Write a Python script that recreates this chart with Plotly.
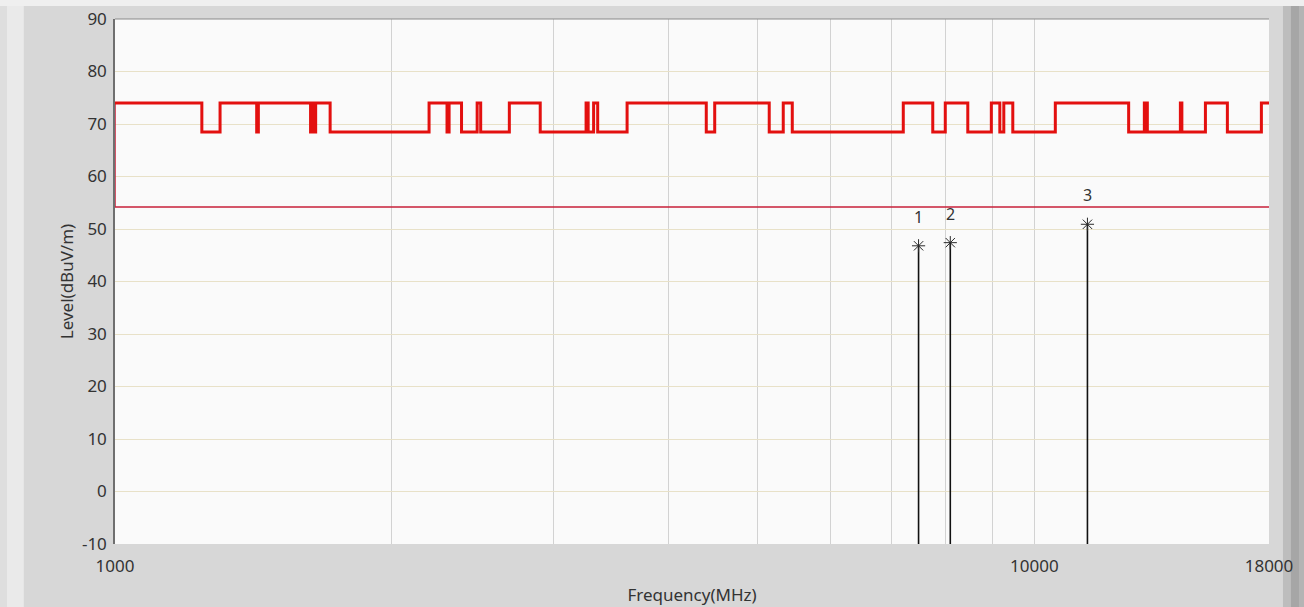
import math
import plotly.graph_objects as go

# Measured trace: step edges (MHz) and the level held from each edge onward
trace_freq_mhz = [
    1000, 1243, 1301, 1426, 1432, 1632, 1638, 1647, 1653, 1714,
    2196, 2297, 2309, 2382, 2477, 2499, 2685, 2901, 3254, 3271,
    3316, 3350, 3606, 4397, 4491, 5148, 5332, 5454, 7202, 7754,
    8001, 8465, 8979, 9172, 9264, 9475, 10540, 12665, 13173, 13272,
    14417, 14471, 15350, 16218, 17660, 18000,
]
trace_level_dbuv = [
    74, 68.5, 74, 68.5, 74, 68.5, 74, 68.5, 74, 68.5,
    74, 68.5, 74, 68.5, 74, 68.5, 74, 68.5, 74, 68.5,
    74, 68.5, 74, 68.5, 74, 68.5, 74, 68.5, 74, 68.5,
    74, 68.5, 74, 68.5, 74, 68.5, 74, 68.5, 74, 68.5,
    74, 68.5, 74, 68.5, 74, 74,
]

# Limit line
limit_freq_mhz = [1000, 1000, 18000]
limit_level_dbuv = [74, 54.2, 54.2]

# Peak markers
marker_ids = ["1", "2", "3"]
marker_freq_mhz = [7483, 8102, 11423]
marker_level_dbuv = [46.8, 47.4, 50.9]

y_floor = -10
y_ticks = [-10, 0, 10, 20, 30, 40, 50, 60, 70, 80, 90]
y_tick_text = ["-10", "0", "10", "20", "30", "40", "50", "60", "70", "80", "90"]
x_ticks = [1000, 10000, 18000]
x_tick_text = ["1000", "10000", "18000"]
x_grid = [2000, 3000, 4000, 5000, 6000, 7000, 8000, 9000, 10000]

font_family = "Noto Sans, Open Sans, sans-serif"
text_color = "#333333"

fig = go.Figure()

fig.add_trace(go.Scatter(
    x=limit_freq_mhz, y=limit_level_dbuv, mode="lines",
    line=dict(color="#c8203a", width=1.5), hoverinfo="skip",
))

fig.add_trace(go.Scatter(
    x=trace_freq_mhz, y=trace_level_dbuv, mode="lines",
    line=dict(color="#e3100f", width=3, shape="hv"), hoverinfo="skip",
))

# Stems from each marker down to the floor of the axis
stem_x, stem_y = [], []
for f, lvl in zip(marker_freq_mhz, marker_level_dbuv):
    stem_x += [f, f, None]
    stem_y += [lvl, y_floor, None]
fig.add_trace(go.Scatter(
    x=stem_x, y=stem_y, mode="lines",
    line=dict(color="#111111", width=1.6), hoverinfo="skip",
))

fig.add_trace(go.Scatter(
    x=marker_freq_mhz, y=marker_level_dbuv, mode="markers",
    marker=dict(symbol="asterisk-open", size=11, color="#2a2a2a",
                line=dict(color="#2a2a2a", width=1)),
    hoverinfo="skip",
))

# Marker numbers above each peak (annotation x is log10 on a log axis)
for mid, f, lvl in zip(marker_ids, marker_freq_mhz, marker_level_dbuv):
    fig.add_annotation(
        x=math.log10(f), y=lvl, xref="x", yref="y", text=mid, showarrow=False,
        yshift=29, font=dict(size=16, color=text_color, family=font_family),
    )

# Window chrome around the graph
frame_shapes = [
    dict(x0=-0.0997, x1=-0.0937, y0=-0.2, y1=1.1, color="#dedede"),
    dict(x0=-0.0937, x1=-0.0790, y0=-0.2, y1=1.1, color="#eaeaea"),
    dict(x0=-0.0997, x1=1.04, y0=1.0248, y1=1.1, color="#efefef"),
    dict(x0=1.0121, x1=1.0190, y0=-0.2, y1=1.0248, color="#bdbdbd"),
    dict(x0=1.0190, x1=1.0260, y0=-0.2, y1=1.0248, color="#a6a6a6"),
    dict(x0=1.0260, x1=1.04, y0=-0.2, y1=1.0248, color="#b4b4b4"),
]
for s in frame_shapes:
    fig.add_shape(type="rect", xref="paper", yref="paper",
                  x0=s["x0"], x1=s["x1"], y0=s["y0"], y1=s["y1"],
                  fillcolor=s["color"], line=dict(width=0), layer="below")
fig.add_shape(type="line", xref="paper", yref="paper", x0=0, x1=1, y0=1, y1=1,
              line=dict(color="#8a8a8a", width=1.2))

fig.update_layout(
    width=1304, height=607,
    margin=dict(l=115, r=35, t=19, b=63, autoexpand=False),
    paper_bgcolor="#d7d7d7",
    plot_bgcolor="#fafafa",
    showlegend=False,
    font=dict(family=font_family, color=text_color),
    xaxis=dict(
        type="log", range=[3, 4.25527], automargin=False,
        tickvals=x_ticks, ticktext=x_tick_text,
        showgrid=False, zeroline=False, showline=False,
        ticks="", ticklabelstandoff=10,
        tickfont=dict(size=17, color=text_color),
        minor=dict(tickvals=x_grid, showgrid=True, gridcolor="#d2d2d2",
                   gridwidth=1, ticks=""),
        title=dict(text="Frequency(MHz)", font=dict(size=17, color=text_color),
                   standoff=13),
    ),
    yaxis=dict(
        range=[-10, 90], tickvals=y_ticks, ticktext=y_tick_text,
        automargin=False,
        showgrid=True, gridcolor="#e8e1c8", gridwidth=1,
        zeroline=False, showline=True, linecolor="#6f6f6f", linewidth=1.5,
        layer="below traces",
        ticks="", ticklabelstandoff=3,
        tickfont=dict(size=17, color=text_color),
        title=dict(text="Level(dBuV/m)", font=dict(size=17, color=text_color),
                   standoff=4),
    ),
)

fig.write_html("out.html")
